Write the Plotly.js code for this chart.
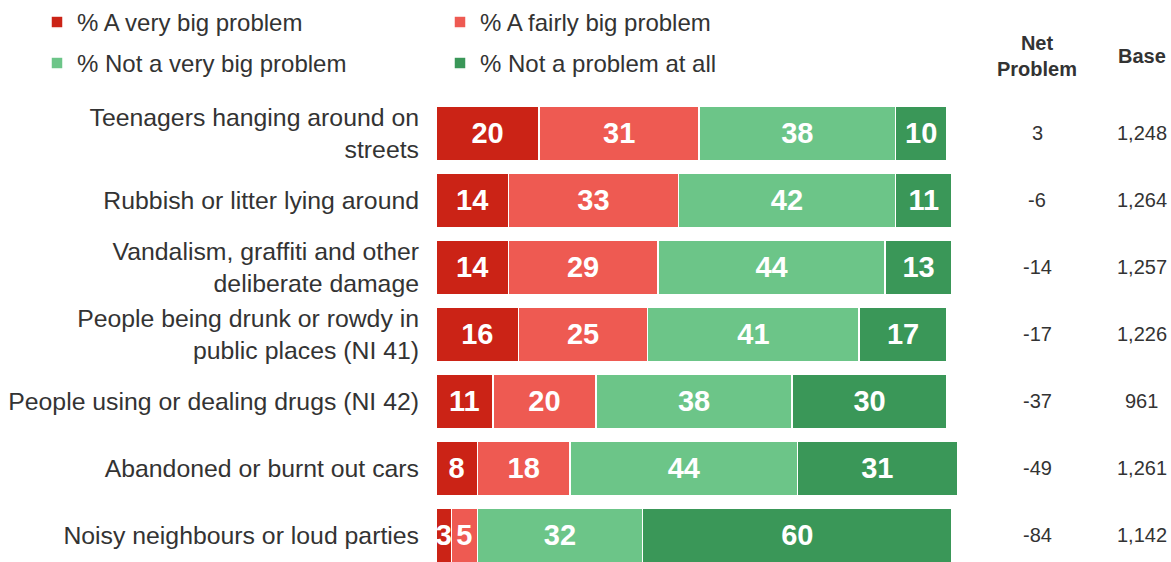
<!DOCTYPE html>
<html>
<head>
<meta charset="utf-8">
<script src="https://cdn.plot.ly/plotly-3.0.1.min.js"></script>
<style>html,body{margin:0;padding:0;background:#fff;}#chart{width:1171px;height:562px;}</style>
</head>
<body>
<div id="chart"></div>
<script>
var categories = [
  "Teenagers hanging around on<br>streets",
  "Rubbish or litter lying around",
  "Vandalism, graffiti and other<br>deliberate damage",
  "People being drunk or rowdy in<br>public places (NI 41)",
  "People using or dealing drugs (NI 42)",
  "Abandoned or burnt out cars",
  "Noisy neighbours or loud parties"
];
var seriesNames = ["% A very big problem", "% A fairly big problem", "% Not a very big problem", "% Not a problem at all"];
var veryBig    = [20, 14, 14, 16, 11, 8, 3];
var fairlyBig  = [31, 33, 29, 25, 20, 18, 5];
var notVeryBig = [38, 42, 44, 41, 38, 44, 32];
var notAtAll   = [10, 11, 13, 17, 30, 31, 60];
var netProblem = ["3", "-6", "-14", "-17", "-37", "-49", "-84"];
var baseN      = ["1,248", "1,264", "1,257", "1,226", "961", "1,261", "1,142"];

var colors = ["#CB2316", "#EE5A52", "#6CC588", "#3A9758"];
var values = [veryBig, fairlyBig, notVeryBig, notAtAll];
var FONT = "Liberation Sans, Arial, Helvetica, sans-serif";

var traces = values.map(function (v, i) {
  return {
    type: "bar",
    orientation: "h",
    name: seriesNames[i],
    x: v,
    y: categories,
    text: v.map(String),
    textposition: "inside",
    insidetextanchor: "middle",
    textangle: 0,
    constraintext: "none",
    cliponaxis: false,
    textfont: {family: FONT, size: 29, color: "#ffffff", weight: "bold"},
    marker: {color: colors[i], line: {color: "#ffffff", width: 1.5}},
    legend: i < 2 ? "legend" : "legend2",
    hoverinfo: "skip"
  };
});

var annotations = [];
annotations.push({xref: "paper", yref: "paper", x: 0.8177, y: 1.0 + 44 / 462, yanchor: "middle", xanchor: "center",
  text: "<b>Net<br>Problem</b>", showarrow: false, font: {family: FONT, size: 20, color: "#333333"}});
annotations.push({xref: "paper", yref: "paper", x: 0.9605, y: 1.0 + 44 / 462, yanchor: "middle", xanchor: "center",
  text: "<b>Base</b>", showarrow: false, font: {family: FONT, size: 20, color: "#333333"}});
categories.forEach(function (c, i) {
  annotations.push({xref: "paper", yref: "y", x: 0.8177, y: c, xanchor: "center", yanchor: "middle",
    text: netProblem[i], showarrow: false, font: {family: FONT, size: 20, color: "#333333"}});
  annotations.push({xref: "paper", yref: "y", x: 0.9605, y: c, xanchor: "center", yanchor: "middle",
    text: baseN[i], showarrow: false, font: {family: FONT, size: 20, color: "#333333"}});
});

var LX = (37 - 436) / 735;
var layout = {
  width: 1171, height: 562,
  margin: {l: 436, r: 0, t: 100, b: 0, pad: 0},
  paper_bgcolor: "#ffffff", plot_bgcolor: "#ffffff",
  barmode: "stack",
  bargap: 0.19,
  font: {family: FONT, color: "#333333"},
  hovermode: false,
  xaxis: {range: [0, 142.4], showgrid: false, zeroline: false, showticklabels: false, showline: false, fixedrange: true},
  yaxis: {type: "category", range: [6.4, -0.5], showgrid: false, zeroline: false, showline: false,
    ticks: "", ticklabelstandoff: 16, tickfont: {family: FONT, size: 24.8, color: "#333333"}, fixedrange: true},
  legend: {orientation: "h", x: LX, xanchor: "left", y: 1 + 100 / 462, yanchor: "top",
    xref: "paper", yref: "paper", entrywidth: 358, entrywidthmode: "pixels",
    font: {family: FONT, size: 24, color: "#333333"}, traceorder: "normal", bgcolor: "rgba(0,0,0,0)"},
  legend2: {orientation: "h", x: LX, xanchor: "left", y: 1 + 59 / 462, yanchor: "top",
    xref: "paper", yref: "paper", entrywidth: 358, entrywidthmode: "pixels",
    font: {family: FONT, size: 24, color: "#333333"}, traceorder: "normal", bgcolor: "rgba(0,0,0,0)"},
  annotations: annotations
};

Plotly.newPlot("chart", traces, layout, {displayModeBar: false, staticPlot: true});
</script>
</body>
</html>
